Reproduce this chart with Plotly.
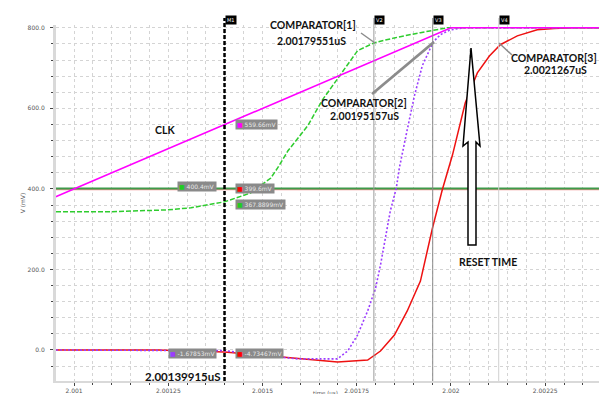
import plotly.graph_objects as go

# ---------------- data ----------------
clk_t = [2.00095, 2.002, 2.00243]
clk_mv = [380, 800, 800]

cmp1_t = [2.000952, 2.00109, 2.001249, 2.00131, 2.001399, 2.001469, 2.001522, 2.00154,
          2.001567, 2.00162, 2.001659, 2.001707, 2.001752, 2.001797, 2.00185, 2.001919,
          2.00199, 2.002422]
cmp1_mv = [343, 343, 348, 353, 367.9, 390, 427, 452, 494, 557, 621, 683, 743, 763, 775,
           788, 800, 800]

cmp2_t = [2.000952, 2.001222, 2.001399, 2.001487, 2.001593, 2.001699, 2.001726, 2.001752,
          2.001779, 2.0018, 2.001813, 2.001826, 2.001839, 2.001855, 2.001863, 2.001884,
          2.001903, 2.001924, 2.001953, 2.001972, 2.001998, 2.002035, 2.002422]
cmp2_mv = [0, 0, -1.7, -12, -22, -22, -2.5, 37, 97, 154, 211, 278, 345, 402, 452, 547,
           631, 706, 765, 783, 795, 800, 800]

cmp3_t = [2.000952, 2.001222, 2.001399, 2.001487, 2.001593, 2.001699, 2.001779, 2.001813,
          2.00185, 2.001884, 2.001919, 2.001951, 2.001977, 2.002004, 2.002038, 2.00207,
          2.002102, 2.002131, 2.002176, 2.002229, 2.002274, 2.002321, 2.002422]
cmp3_mv = [0, 0, -4.7, -12, -20, -30, -25, -2.5, 37, 97, 171, 303, 398, 484, 614, 688,
           730, 758, 780, 795, 798, 800, 800]

ref_green_mv = 401.0
ref_red_mv = 398.5

M1_T = 2.00139915
V2_T = 2.00179551
V3_T = 2.00195157
V4_T = 2.0021267

x_tickvals = [2.001, 2.00125, 2.0015, 2.00175, 2.002, 2.00225]
x_ticktext = ["2.001", "2.00125", "2.0015", "2.00175", "2.002", "2.00225"]
y_tickvals = [0, 200, 400, 600, 800]
y_ticktext = ["0.0", "200.0", "400.0", "600.0", "800.0"]

# ---------------- layout geometry ----------------
W, H = 607, 394
ML, MR, MT, MB = 48, 5, 17, 21
PW, PH = W - ML - MR, H - MT - MB


def px(x):
    return (x - ML) / PW


def py(y):
    return (H - MB - y) / PH


fig = go.Figure()

x_lo, x_hi = 2.000952, 2.002422
fig.add_trace(go.Scatter(x=[x_lo, x_hi], y=[ref_red_mv, ref_red_mv], mode="lines",
                         line=dict(color="#f29090", width=1.5), hoverinfo="skip"))
fig.add_trace(go.Scatter(x=[x_lo, x_hi], y=[ref_green_mv, ref_green_mv], mode="lines",
                         line=dict(color="#3f9a4a", width=2), hoverinfo="skip"))
fig.add_trace(go.Scatter(x=cmp3_t, y=cmp3_mv, mode="lines",
                         line=dict(color="#ee1111", width=1.5)))
fig.add_trace(go.Scatter(x=cmp2_t, y=cmp2_mv, mode="lines",
                         line=dict(color="#9b3dff", width=1.6, dash="2px,2px")))
fig.add_trace(go.Scatter(x=cmp1_t, y=cmp1_mv, mode="lines",
                         line=dict(color="#2ecc2e", width=1.5, dash="5px,2px")))
fig.add_trace(go.Scatter(x=clk_t, y=clk_mv, mode="lines",
                         line=dict(color="#ff00ff", width=1.6)))

shapes = []
# vertical markers
shapes.append(dict(type="line", xref="x", yref="paper", x0=M1_T, x1=M1_T, y0=0, y1=py(10),
                   line=dict(color="black", width=2.5, dash="4px,2px"), layer="above"))
for t, c in [(V2_T, "#9a9a9a"), (V3_T, "#8a8a8a"), (V4_T, "#d0d0d0")]:
    shapes.append(dict(type="line", xref="x", yref="paper", x0=t, x1=t, y0=0, y1=py(10),
                       line=dict(color=c, width=1), layer="above"))
# right-side handles
for y0, y1 in [(28, 37), (171, 181)]:
    shapes.append(dict(type="rect", xref="paper", yref="paper", x0=px(601), x1=px(604),
                       y0=py(y1), y1=py(y0), fillcolor="black", line=dict(width=0)))
# pointer lines
for (x0, y0, x1, y1, w) in [(353, 25, 367, 35, 1.5), (364, 86, 426, 34, 2.8),
                            (504, 47, 491, 35, 1.5)]:
    shapes.append(dict(type="line", xref="paper", yref="paper", x0=px(x0), y0=py(y0),
                       x1=px(x1), y1=py(y1), line=dict(color="#8c8c8c", width=w)))
# hollow arrow
pts = [(463, 40), (472, 138), (468, 134), (468, 237), (460, 237), (460, 134), (455, 138)]
path = "M " + " L ".join(f"{px(a):.5f},{py(b):.5f}" for a, b in pts) + " Z"
shapes.append(dict(type="path", xref="paper", yref="paper", path=path,
                   fillcolor="white", line=dict(color="black", width=1.5)))

annotations = []
FONT = "Lato"


def txt(x, y, s, size=10.5, xanchor="center", color="#111111", family=FONT):
    annotations.append(dict(xref="paper", yref="paper", x=px(x), y=py(y), text=s,
                            showarrow=False, xanchor=xanchor, yanchor="middle",
                            font=dict(family=family, size=size, color=color)))


txt(157, 122, "<b>CLK</b>")
txt(305, 17, "<b>COMPARATOR[1]</b>")
txt(303, 33, "<b>2.00179551uS</b>")
txt(356, 95, "<b>COMPARATOR[2]</b>")
txt(356, 108, "<b>2.00195157uS</b>")
txt(546, 50, "<b>COMPARATOR[3]</b>")
txt(547, 62, "<b>2.0021267uS</b>")
txt(480, 254, "<b>RESET TIME</b>")
txt(215, 368, "<b>2.00139915uS</b>", size=11.5, xanchor="right")
annotations.append(dict(xref="paper", yref="paper", x=px(317), y=py(385), text="time (us)",
                        showarrow=False, xanchor="center", yanchor="middle", borderpad=0,
                        font=dict(family="DejaVu Sans", size=5.5, color="#555555")))

# marker tags at top
for t, lab in [(M1_T, "M1"), (V2_T, "V2"), (V3_T, "V3"), (V4_T, "V4")]:
    annotations.append(dict(xref="x", yref="paper", x=t, y=py(17), text=lab,
                            showarrow=False, xanchor="left", yanchor="bottom",
                            bgcolor="black", borderpad=1,
                            font=dict(family="DejaVu Sans", size=5, color="white")))


def tag(value, color, label, side, yshift=0):
    s = f"<span style='color:{color}'>■</span> {label}"
    annotations.append(dict(xref="x", yref="y", x=M1_T, y=value, text=s, showarrow=False,
                            xanchor="left" if side > 0 else "right",
                            xshift=10 if side > 0 else -8, yshift=yshift,
                            bgcolor="#8a8a8a", borderpad=1,
                            font=dict(family="DejaVu Sans", size=6, color="#e8e8e8")))


tag(559.66, "#ff00ff", "559.66mV", 1)
tag(400.4, "#22cc22", "400.4mV", -1, yshift=2)
tag(399.6, "#ff0000", "399.6mV", 1, yshift=1)
tag(367.8899, "#22cc22", "367.8899mV", 1, yshift=-3)
tag(-1.7, "#9b3dff", "-1.67853mV", -1, yshift=-3)
tag(-4.7, "#ff0000", "-4.73467mV", 1, yshift=-2)

grid = dict(showgrid=True, gridcolor="#d4d4d4", griddash="dot", gridwidth=1)

fig.update_layout(
    width=W, height=H, margin=dict(l=ML, r=MR, t=MT, b=MB, autoexpand=False),
    paper_bgcolor="white", plot_bgcolor="white", showlegend=False,
    shapes=shapes, annotations=annotations,
    xaxis=dict(range=[x_lo, x_hi], tickmode="array", tickvals=x_tickvals,
               ticktext=x_ticktext, ticks="outside", ticklen=3, tickcolor="#444",
               tickfont=dict(family="DejaVu Sans", size=6, color="#555"),
               showline=True, linecolor="#d9d9d9", linewidth=2, zeroline=False,
               automargin=False,
               minor=dict(tickmode="linear", tick0=2.001, dtick=0.00005, ticks="outside",
                          ticklen=2, tickcolor="#444", **grid),
               **grid),
    yaxis=dict(range=[-77, 807], tickmode="array", tickvals=y_tickvals, ticktext=y_ticktext,
               ticks="outside", ticklen=3, tickcolor="#444",
               tickfont=dict(family="DejaVu Sans", size=6, color="#555"),
               ticklabelstandoff=4,
               showline=True, linecolor="#d9d9d9", linewidth=3, zeroline=False,
               title=dict(text="V (mV)", font=dict(family="DejaVu Sans", size=6, color="#555"),
                          standoff=2),
               automargin=False,
               minor=dict(tickmode="linear", tick0=0, dtick=40, ticks="outside",
                          ticklen=2, tickcolor="#444", **grid),
               **grid),
)

fig.write_html("out.html")
